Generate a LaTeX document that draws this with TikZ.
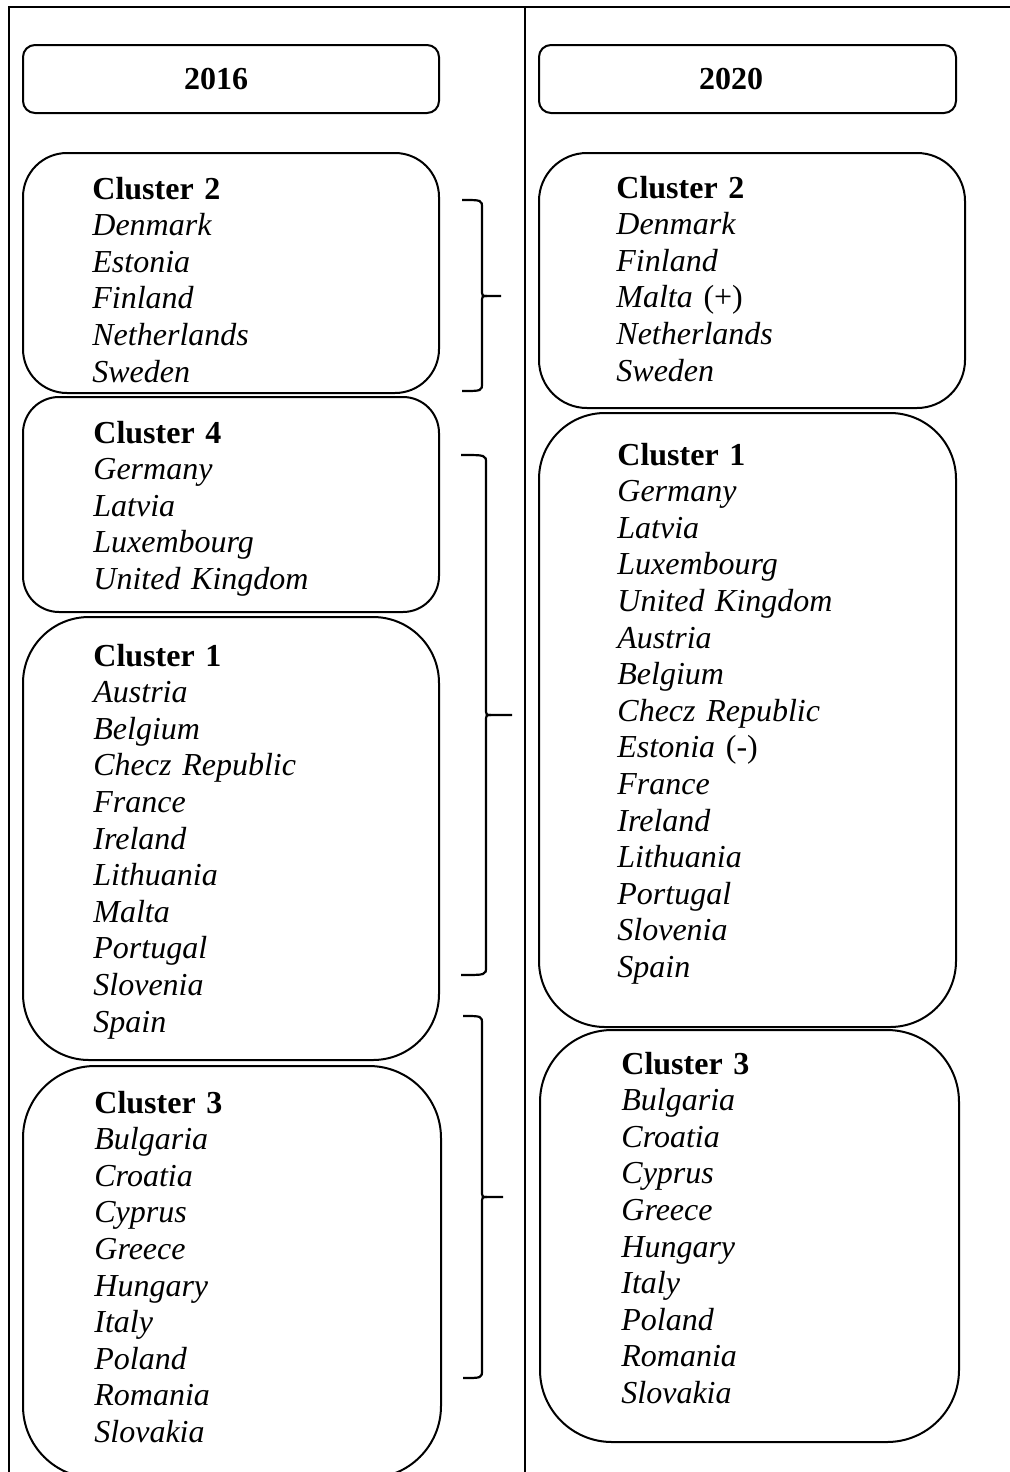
\documentclass[tikz,border=0pt]{standalone}
\usepackage{fontspec}
\setmainfont{Liberation Serif}
\usepackage{tikz}

\newcommand{\clname}[1]{\textbf{\upshape #1}}

\begin{document}
\begin{tikzpicture}[x=0.5pt,y=-0.5pt,
    frame/.style={line width=0.9pt},
    box/.style={line width=1pt},
    bracket/.style={line width=1.1pt},
    hd/.style={inner sep=0pt,font=\fontsize{16}{18.3}\selectfont\bfseries},
    lst/.style={anchor=north west,inner sep=0pt,align=left,text width=170pt,
        font=\fontsize{16}{18.3}\selectfont\itshape}]
    \useasboundingbox (0,0) rectangle (1010,1472);
    %Table
    \draw[frame] (9,1472) -- (9,7) -- (1010,7);
    \draw[frame] (525,7) -- (525,1472);

    %Years
    \draw[box,rounded corners=6pt] (23,45) rectangle (439,113);
    \draw[box,rounded corners=6pt] (539,45) rectangle (956,113);
    \node[hd] (h16) at (216,79) {2016};
    \node[hd] (h20) at (731,79) {2020};

    %2016
    \draw[box,rounded corners=22pt] (23,153) rectangle (439,393);
    \draw[box,rounded corners=18pt] (23,397) rectangle (439,612);
    \draw[box,rounded corners=33pt] (23,617) rectangle (439,1060);
    \draw[box,rounded corners=36pt] (23,1066) rectangle (441,1478);
    \node[lst] (l2) at (92,173) {\strut\clname{Cluster 2}\\ Denmark\\ Estonia\\ Finland\\ Netherlands\\ Sweden};
    \node[lst] (l4) at (93,417) {\strut\clname{Cluster 4}\\ Germany\\ Latvia\\ Luxembourg\\ United Kingdom};
    \node[lst] (l1) at (93,640) {\strut\clname{Cluster 1}\\ Austria\\ Belgium\\ Checz Republic\\ France\\ Ireland\\ Lithuania\\ Malta\\ Portugal\\ Slovenia\\ Spain};
    \node[lst] (l3) at (94,1087) {\strut\clname{Cluster 3}\\ Bulgaria\\ Croatia\\ Cyprus\\ Greece\\ Hungary\\ Italy\\ Poland\\ Romania\\ Slovakia};

    %2020
    \draw[box,rounded corners=24pt] (539,153) rectangle (965,408);
    \draw[box,rounded corners=33pt] (539,413) rectangle (956,1027);
    \draw[box,rounded corners=36pt] (540,1030) rectangle (959,1442);
    \node[lst] (r2) at (616,172) {\strut\clname{Cluster 2}\\ Denmark\\ Finland\\ Malta {\upshape(+)}\\ Netherlands\\ Sweden};
    \node[lst] (r1) at (617,439) {\strut\clname{Cluster 1}\\ Germany\\ Latvia\\ Luxembourg\\ United Kingdom\\ Austria\\ Belgium\\ Checz Republic\\ Estonia {\upshape(-)}\\ France\\ Ireland\\ Lithuania\\ Portugal\\ Slovenia\\ Spain};
    \node[lst] (r3) at (621,1048) {\strut\clname{Cluster 3}\\ Bulgaria\\ Croatia\\ Cyprus\\ Greece\\ Hungary\\ Italy\\ Poland\\ Romania\\ Slovakia};

    %Brackets
    \draw[bracket] (462,200) .. controls (482,200) .. (482,208) -- (482,289)
        .. controls (482,296) .. (487,296) -- (501,296);
    \draw[bracket] (487,296) .. controls (482,296) .. (482,303) -- (482,383)
        .. controls (482,391) .. (462,391);
    \draw[bracket] (461,455) .. controls (486,455) .. (486,463) -- (486,708)
        .. controls (486,715) .. (491,715) -- (512,715);
    \draw[bracket] (491,715) .. controls (486,715) .. (486,722) -- (486,967)
        .. controls (486,975) .. (461,975);
    \draw[bracket] (463,1016) .. controls (482,1016) .. (482,1024) -- (482,1190)
        .. controls (482,1197) .. (487,1197) -- (503,1197);
    \draw[bracket] (487,1197) .. controls (482,1197) .. (482,1204) -- (482,1370)
        .. controls (482,1378) .. (463,1378);
\end{tikzpicture}
\end{document}
